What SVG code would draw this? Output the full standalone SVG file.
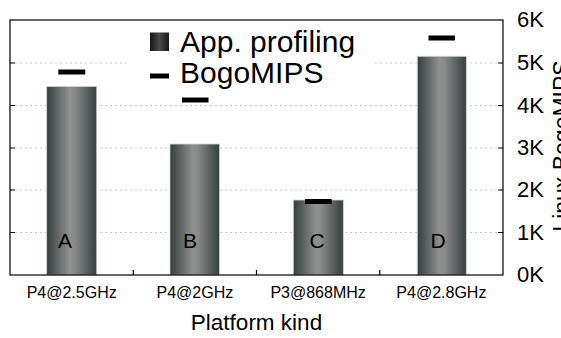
<svg xmlns="http://www.w3.org/2000/svg" width="561" height="338" viewBox="0 0 561 338">
<defs>
<linearGradient id="barGrad" x1="0" y1="0" x2="1" y2="0">
<stop offset="0" stop-color="#363e3e"/>
<stop offset="0.45" stop-color="#8e8f8e"/>
<stop offset="0.55" stop-color="#8a8b8a"/>
<stop offset="1" stop-color="#363e3e"/>
</linearGradient>
<linearGradient id="legGrad" x1="0" y1="0" x2="1" y2="0">
<stop offset="0" stop-color="#151515"/>
<stop offset="0.5" stop-color="#4a4a4a"/>
<stop offset="1" stop-color="#1a1a1a"/>
</linearGradient>
</defs>
<style>
text { font-family: "Liberation Sans", Arial, Helvetica, sans-serif; fill: #000; }
.grid { stroke: #c8c8c8; stroke-width: 1; stroke-dasharray: 2 3; fill: none; }
.axis { stroke: #000; stroke-width: 1.2; fill: none; }
.bar { fill: url(#barGrad); stroke: #d0d0d0; stroke-width: 0.8; }
.mark { fill: #000; }
.tick { font-size: 16px; text-anchor: middle; }
.ylab { font-size: 22px; }
.blab { font-size: 21px; text-anchor: middle; }
.leg { font-size: 30px; }
</style>
<rect x="0" y="0" width="561" height="338" fill="#fff"/>
<g id="grid">
<line class="grid" x1="10" y1="63" x2="503" y2="63"/>
<line class="grid" x1="10" y1="105.5" x2="503" y2="105.5"/>
<line class="grid" x1="10" y1="148" x2="503" y2="148"/>
<line class="grid" x1="10" y1="190" x2="503" y2="190"/>
<line class="grid" x1="10" y1="232.5" x2="503" y2="232.5"/>
</g>
<g id="legend">
<rect x="130" y="24" width="245" height="72" fill="#fff"/>
<rect x="150" y="32.5" width="19" height="18.5" fill="url(#legGrad)"/>
<text class="leg" x="180" y="51.5">App. profiling</text>
<rect x="150" y="73.5" width="19" height="5" class="mark"/>
<text class="leg" x="180" y="83">BogoMIPS</text>
</g>
<g id="barA">
<rect class="bar" x="46.7" y="86.5" width="50" height="188.5"/>
<rect class="mark" x="58.3" y="69.5" width="27" height="5"/>
<text class="blab" x="65" y="248">A</text>
</g>
<g id="barB">
<rect class="bar" x="170" y="144" width="49.5" height="131"/>
<rect class="mark" x="182" y="97.5" width="26.5" height="5"/>
<text class="blab" x="190" y="248">B</text>
</g>
<g id="barC">
<rect class="bar" x="293.3" y="200" width="50" height="75"/>
<rect class="mark" x="305" y="199" width="26.7" height="5"/>
<text class="blab" x="317" y="248">C</text>
</g>
<g id="barD">
<rect class="bar" x="417.3" y="56.3" width="49" height="218.7"/>
<rect class="mark" x="428.5" y="35.5" width="26.5" height="5"/>
<text class="blab" x="438" y="248">D</text>
</g>
<g id="axes">
<rect class="axis" x="10" y="20" width="493" height="255"/>
<path class="axis" d="M10 63h5M10 105.5h5M10 148h5M10 190h5M10 232.5h5M503 63h-5M503 105.5h-5M503 148h-5M503 190h-5M503 232.5h-5M133.3 275v-5M256.5 275v-5M379.8 275v-5"/>
</g>
<g id="xlabels">
<text class="tick" x="71.7" y="298">P4@2.5GHz</text>
<text class="tick" x="194.9" y="298">P4@2GHz</text>
<text class="tick" x="318.1" y="298">P3@868MHz</text>
<text class="tick" x="441.4" y="298">P4@2.8GHz</text>
<text x="256.5" y="330" font-size="22.5" text-anchor="middle">Platform kind</text>
</g>
<g id="ylabels">
<text class="ylab" x="517" y="27">6K</text>
<text class="ylab" x="517" y="70">5K</text>
<text class="ylab" x="517" y="112.5">4K</text>
<text class="ylab" x="517" y="155">3K</text>
<text class="ylab" x="517" y="197">2K</text>
<text class="ylab" x="517" y="239.5">1K</text>
<text class="ylab" x="517" y="282">0K</text>
<text x="0" y="0" font-size="23" text-anchor="middle" transform="translate(569.5 146) rotate(-90)">Linux BogoMIPS</text>
</g>
</svg>
